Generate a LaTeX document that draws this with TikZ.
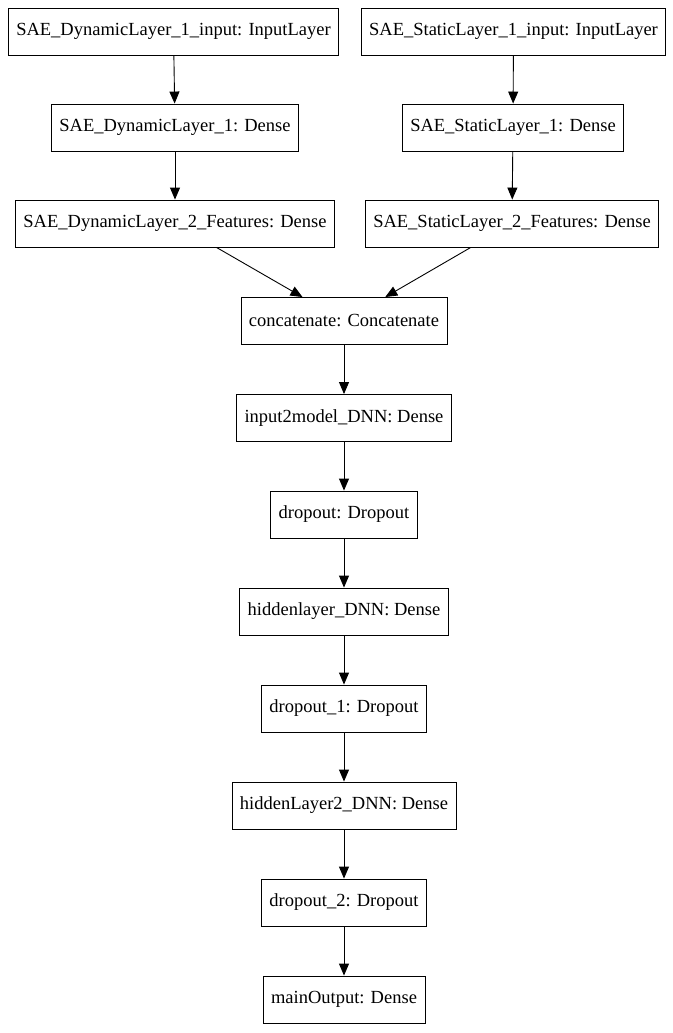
\documentclass[tikz,border=0pt]{standalone}
\usepackage{fontspec}
\setmainfont{Liberation Serif}
\usetikzlibrary{arrows.meta}

\begin{document}
\begin{tikzpicture}[
  x=1pt, y=-1pt,
  layer/.style={draw, rectangle, line width=0.9pt, minimum height=47pt, inner xsep=8pt, font=\fontsize{18.5}{20}\selectfont},
  flow/.style={-{Triangle[length=12pt,width=10pt]}, line width=0.9pt}
]
  \useasboundingbox (0,0) rectangle (672,1033);
  \node[layer] (dynin) at (173.5,31.5) {SAE\_DynamicLayer\_1\_input: InputLayer};
  \node[layer] (statin) at (513.5,31.5) {SAE\_StaticLayer\_1\_input: InputLayer};
  \node[layer] (dyn1) at (175,127.5) {SAE\_DynamicLayer\_1: Dense};
  \node[layer] (stat1) at (513,127.5) {SAE\_StaticLayer\_1: Dense};
  \node[layer] (dyn2) at (175,223.5) {SAE\_DynamicLayer\_2\_Features: Dense};
  \node[layer] (stat2) at (512,223.5) {SAE\_StaticLayer\_2\_Features: Dense};
  \node[layer] (concat) at (344,321) {concatenate: Concatenate};
  \node[layer] (inp) at (344,418) {input2model\_DNN: Dense};
  \node[layer] (drop0) at (344,514.5) {dropout: Dropout};
  \node[layer] (hid1) at (344,611.5) {hiddenlayer\_DNN: Dense};
  \node[layer] (drop1) at (344,708.5) {dropout\_1: Dropout};
  \node[layer] (hid2) at (344,805.5) {hiddenLayer2\_DNN: Dense};
  \node[layer] (drop2) at (344,902.5) {dropout\_2: Dropout};
  \node[layer] (out) at (344,999.5) {mainOutput: Dense};
  \draw[flow] (dynin) -- (dyn1);
  \draw[flow] (dyn1) -- (dyn2);
  \draw[flow] (statin) -- (stat1);
  \draw[flow] (stat1) -- (stat2);
  \draw[flow] (dyn2) -- (concat);
  \draw[flow] (stat2) -- (concat);
  \draw[flow] (concat) -- (inp);
  \draw[flow] (inp) -- (drop0);
  \draw[flow] (drop0) -- (hid1);
  \draw[flow] (hid1) -- (drop1);
  \draw[flow] (drop1) -- (hid2);
  \draw[flow] (hid2) -- (drop2);
  \draw[flow] (drop2) -- (out);
\end{tikzpicture}
\end{document}
